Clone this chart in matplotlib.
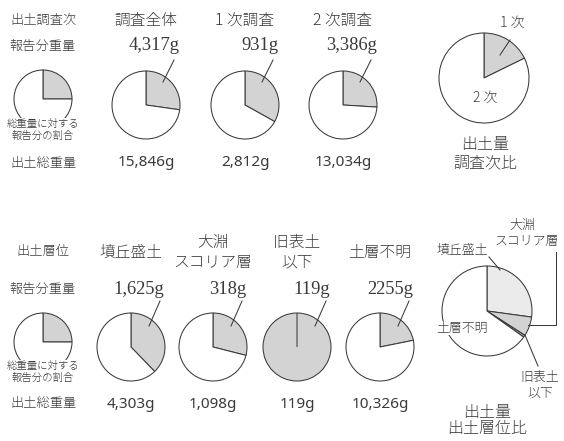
import matplotlib
matplotlib.use("Agg")
import matplotlib.pyplot as plt

# ---------------- data ----------------
survey_titles = ["調査全体", "1 次調査", "2 次調査"]
survey_report = [4317, 931, 3386]
survey_total = [15846, 2812, 13034]
survey_report_labels = ["4,317g", "931g", "3,386g"]
survey_total_labels = ["15,846g", "2,812g", "13,034g"]

phase_labels = ["1 次", "2 次"]
phase_totals = [2812, 13034]

layer_titles = ["墳丘盛土", "大淵\nスコリア層", "旧表土\n以下", "土層不明"]
layer_report = [1625, 318, 119, 2255]
layer_total = [4303, 1098, 119, 10326]
layer_report_labels = ["1,625g", "318g", "119g", "2255g"]
layer_total_labels = ["4,303g", "1,098g", "119g", "10,326g"]
layer_colors = ["#ebebeb", "#d3d3d3", "#a5a5a5", "#ffffff"]

legend_fraction = [1, 3]

# ---------------- style ----------------
JP = ["Noto Sans CJK JP", "DejaVu Sans"]
SERIF = ["Liberation Serif", "DejaVu Serif"]
SANS = ["Noto Sans", "DejaVu Sans"]
TXT = "#3a3a3a"
EDGE = "#3a3a3a"
GRAY = "#d3d3d3"
LW = 0.75
H = 441

fig = plt.figure(figsize=(5.64, 4.41), dpi=100)
ax = fig.add_axes([0, 0, 1, 1])


def Y(p):
    return H - p


def pie(vals, cx, cy, r, colors):
    ax.pie(vals, colors=colors, startangle=90, counterclock=False, radius=r,
           center=(cx, Y(cy)), frame=False,
           wedgeprops=dict(edgecolor=EDGE, linewidth=LW))


def txt(x, y, s, size, family=JP, ha="center", **kw):
    ax.text(x, Y(y), s, fontsize=size, family=family, ha=ha, va="center",
            color=TXT, fontweight="light", **kw)


def leader(x0, y0, x1, y1):
    ax.plot([x0, x1], [Y(y0), Y(y1)], color=EDGE, lw=LW)


def legend_text(y1, y2):
    for yy, s in ((y1, "総重量に対する"), (y2, "報告分の割合")):
        ax.text(43, Y(yy), s, fontsize=7.5, family=JP, ha="center",
                va="center", color=TXT, zorder=5, fontweight="light",
                bbox=dict(facecolor="white", edgecolor="none", pad=0.5))


# ---------------- top row ----------------
txt(43, 20, "出土調査次", 9.5)
txt(43, 46, "報告分重量", 9.5)
txt(43, 163, "出土総重量", 9.5)
pie(legend_fraction, 43, 99, 29, [GRAY, "white"])
legend_text(124, 136)

top_cx = [146, 245, 343]
for i, cx in enumerate(top_cx):
    rep, tot = survey_report[i], survey_total[i]
    pie([rep, tot - rep], cx, 105, 34, [GRAY, "white"])
    txt(cx, 20, survey_titles[i], 11.3)
    txt(cx + 34, 45, survey_report_labels[i], 13.3, family=SERIF, ha="right")
    txt(cx, 163, survey_total_labels[i], 11, family=SANS)
    leader(cx + 28, 60, cx + 17, 82)

# phase ratio pie
pie(phase_totals, 484, 78, 45, [GRAY, "white"])
txt(512, 23, phase_labels[0], 10)
leader(510, 40, 500, 55)
txt(485, 98, phase_labels[1], 10)
txt(485, 145, "出土量", 11.5)
txt(485, 163, "調査次比", 11.5)

# ---------------- bottom row ----------------
txt(43, 252, "出土層位", 9.5)
txt(43, 289, "報告分重量", 9.5)
txt(43, 404, "出土総重量", 9.5)
pie(legend_fraction, 43, 342, 29, [GRAY, "white"])
legend_text(366, 378)

bot_cx = [131, 213, 297, 380]
for i, cx in enumerate(bot_cx):
    rep, tot = layer_report[i], layer_total[i]
    pie([rep, tot - rep], cx, 347, 34, [GRAY, "white"])
    title = layer_titles[i]
    if "\n" in title:
        a, b = title.split("\n")
        txt(cx, 242, a, 11.3)
        txt(cx, 262, b, 11.3)
    else:
        txt(cx, 252, title, 11.3)
    txt(cx + 33, 289, layer_report_labels[i], 13.3, family=SERIF, ha="right")
    txt(cx, 404, layer_total_labels[i], 11, family=SANS)
    leader(cx + 29, 301, cx + 18, 326)

# layer ratio pie
pie(layer_total, 487, 311, 45, layer_colors)
txt(522, 225, "大淵", 9.3)
txt(527, 242, "スコリア層", 9.3)
txt(462, 250, "墳丘盛土", 9.3)
leader(489, 257, 500, 270)
ax.plot([556, 556, 528], [Y(252), Y(325), Y(325)], color=EDGE, lw=LW)
txt(462, 328, "土層不明", 9.3, zorder=5,
    bbox=dict(facecolor="white", edgecolor="none", pad=0.3))
leader(525, 335, 538, 366)
txt(540, 377, "旧表土", 9.3)
txt(540, 393, "以下", 9.3)
txt(487, 412, "出土量", 11.5)
txt(487, 428, "出土層位比", 11.5)

ax.set_xlim(0, 564)
ax.set_ylim(0, H)
ax.set_aspect("equal")
ax.axis("off")
fig.savefig("out.png", dpi=100, facecolor="white")
